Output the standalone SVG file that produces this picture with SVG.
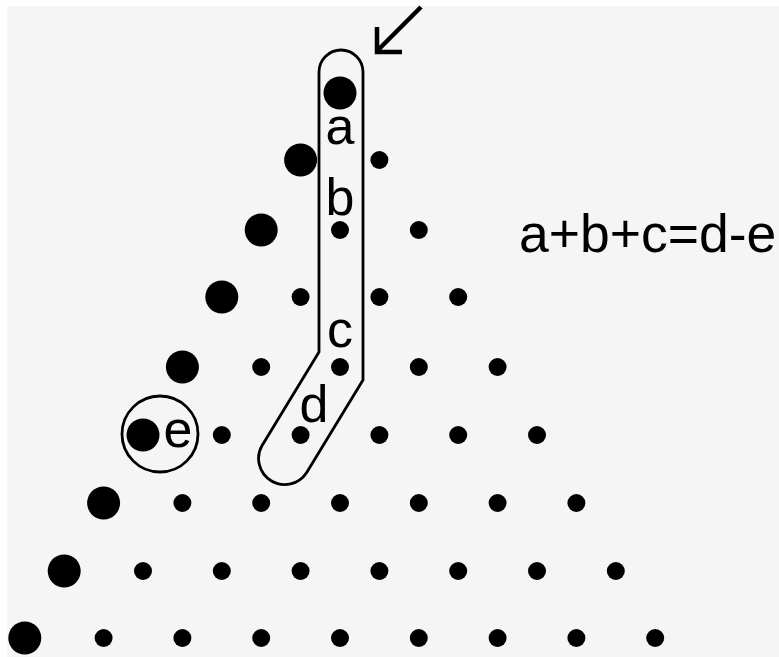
<svg xmlns="http://www.w3.org/2000/svg" width="779" height="657" viewBox="0 0 779 657">
<style>
.big{fill:#000}
.sm{fill:#000}
.lbl{font-family:"Liberation Sans",Arial,sans-serif;font-size:52px;fill:#000;text-anchor:middle}
.eq{font-family:"Liberation Sans",Arial,sans-serif;font-size:53.5px;fill:#000}
.outline{fill:none;stroke:#000;stroke-width:2.8;stroke-linejoin:round}
.arrow{fill:none;stroke:#000;stroke-width:4.5;stroke-linecap:butt}
</style>
<rect x="0" y="0" width="779" height="657" fill="#ffffff"/>
<rect x="7" y="6" width="772" height="651" fill="#f5f5f5"/>
<g id="big-dots">
<circle class="big" cx="340" cy="93" r="16.5"/>
<circle class="big" cx="300.6" cy="160" r="16.5"/>
<circle class="big" cx="261.2" cy="230" r="16.5"/>
<circle class="big" cx="221.8" cy="297" r="16.5"/>
<circle class="big" cx="182.4" cy="367" r="16.5"/>
<circle class="big" cx="143" cy="435" r="16.5"/>
<circle class="big" cx="103.6" cy="503" r="16.5"/>
<circle class="big" cx="64.2" cy="571" r="16.5"/>
<circle class="big" cx="24.8" cy="638" r="16.5"/>
</g>
<g id="small-dots">
<circle class="sm" cx="379.4" cy="160" r="9"/>
<circle class="sm" cx="340" cy="230" r="9"/>
<circle class="sm" cx="418.8" cy="230" r="9"/>
<circle class="sm" cx="300.6" cy="297" r="9"/>
<circle class="sm" cx="379.4" cy="297" r="9"/>
<circle class="sm" cx="458.2" cy="297" r="9"/>
<circle class="sm" cx="261.2" cy="367" r="9"/>
<circle class="sm" cx="340" cy="367" r="9"/>
<circle class="sm" cx="418.8" cy="367" r="9"/>
<circle class="sm" cx="497.6" cy="367" r="9"/>
<circle class="sm" cx="221.8" cy="435" r="9"/>
<circle class="sm" cx="300.6" cy="435" r="9"/>
<circle class="sm" cx="379.4" cy="435" r="9"/>
<circle class="sm" cx="458.2" cy="435" r="9"/>
<circle class="sm" cx="537" cy="435" r="9"/>
<circle class="sm" cx="182.4" cy="503" r="9"/>
<circle class="sm" cx="261.2" cy="503" r="9"/>
<circle class="sm" cx="340" cy="503" r="9"/>
<circle class="sm" cx="418.8" cy="503" r="9"/>
<circle class="sm" cx="497.6" cy="503" r="9"/>
<circle class="sm" cx="576.4" cy="503" r="9"/>
<circle class="sm" cx="143" cy="571" r="9"/>
<circle class="sm" cx="221.8" cy="571" r="9"/>
<circle class="sm" cx="300.6" cy="571" r="9"/>
<circle class="sm" cx="379.4" cy="571" r="9"/>
<circle class="sm" cx="458.2" cy="571" r="9"/>
<circle class="sm" cx="537" cy="571" r="9"/>
<circle class="sm" cx="615.8" cy="571" r="9"/>
<circle class="sm" cx="103.6" cy="638" r="9"/>
<circle class="sm" cx="182.4" cy="638" r="9"/>
<circle class="sm" cx="261.2" cy="638" r="9"/>
<circle class="sm" cx="340" cy="638" r="9"/>
<circle class="sm" cx="418.8" cy="638" r="9"/>
<circle class="sm" cx="497.6" cy="638" r="9"/>
<circle class="sm" cx="576.4" cy="638" r="9"/>
<circle class="sm" cx="655.2" cy="638" r="9"/>
</g>
<g id="capsule">
<path class="outline" d="M319,352 L319,72 A22,22 0 0 1 363,72 L363,380 L306.7,472.5 A26.1,26.1 0 0 1 262.1,445.4 Z"/>
</g>
<g id="e-circle">
<circle class="outline" cx="160" cy="434" r="38"/>
</g>
<g id="labels">
<text class="lbl" x="340" y="144">a</text>
<text class="lbl" x="340" y="215">b</text>
<text class="lbl" x="340" y="347">c</text>
<text class="lbl" x="314" y="422">d</text>
<text class="lbl" x="178" y="447">e</text>
</g>
<g id="equation">
<text class="eq" x="519" y="252">a+b+c=d-e</text>
</g>
<g id="connectors">
<path class="arrow" d="M421,7 L378,50 M377,27 L377,52 L402,52"/>
</g>
</svg>
